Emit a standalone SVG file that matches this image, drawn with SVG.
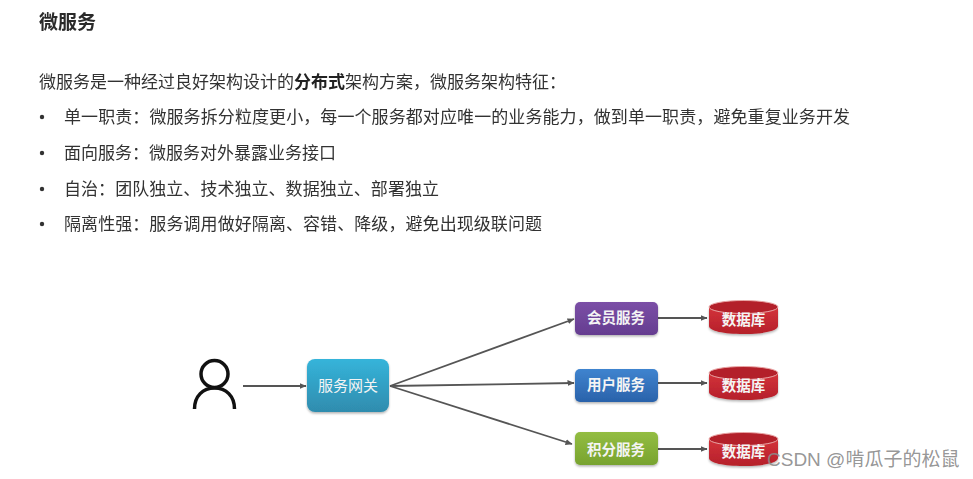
<svg xmlns="http://www.w3.org/2000/svg" width="973" height="479" viewBox="0 0 973 479">
<style>
text{font-family:"Noto Sans CJK SC","Liberation Sans",sans-serif}
.t{font-size:17px;fill:#333}
.d{fill:#333}
.h{font-size:19px;font-weight:700;fill:#2b2b2b}
.b{font-weight:700;fill:#222}
.n{font-size:14.500px;font-weight:700;fill:#f4f4f4;text-anchor:middle}
.l{stroke:#555;stroke-width:1.800;fill:none;marker-end:url(#a)}
.wm{font-family:"Liberation Sans","Noto Sans CJK SC",sans-serif;font-size:19px;fill:#8a8a8a;fill-opacity:.9}
.dbtop{fill:#b3202a;stroke:#e9a5a5;stroke-width:1}
</style>
<defs>
<marker id="a" markerWidth="8" markerHeight="8" refX="6.500" refY="3" orient="auto" markerUnits="userSpaceOnUse"><path d="M0 0L7 3L0 6Z" fill="#555"/></marker>
<linearGradient id="gt" x1="0" y1="0" x2="0" y2="1"><stop offset="0" stop-color="#35b4da"/><stop offset="1" stop-color="#2f8cae"/></linearGradient>
<linearGradient id="gp" x1="0" y1="0" x2="0" y2="1"><stop offset="0" stop-color="#7b4fa6"/><stop offset="1" stop-color="#653d90"/></linearGradient>
<linearGradient id="gb" x1="0" y1="0" x2="0" y2="1"><stop offset="0" stop-color="#3f84cf"/><stop offset="1" stop-color="#2a62aa"/></linearGradient>
<linearGradient id="gg" x1="0" y1="0" x2="0" y2="1"><stop offset="0" stop-color="#93bd42"/><stop offset="1" stop-color="#78a32f"/></linearGradient>
<linearGradient id="gr" x1="0" y1="0" x2="0" y2="1"><stop offset="0" stop-color="#d2323a"/><stop offset="1" stop-color="#b5202a"/></linearGradient>
<filter id="s" x="-10%" y="-10%" width="120%" height="130%"><feDropShadow dx="0" dy="1.500" stdDeviation="1.200" flood-color="#000" flood-opacity=".3"/></filter>
<filter id="soft"><feGaussianBlur stdDeviation="0.350"/></filter>
<g id="cyl"><path d="M709 308V326C709 331 724 334 743.500 334S778 331 778 326V308Z" fill="url(#gr)" filter="url(#s)"/><ellipse class="dbtop" cx="743.500" cy="307" rx="34.500" ry="6.500"/></g>
</defs>
<rect width="973" height="479" fill="#fff"/>
<g id="text" filter="url(#soft)">
<text class="h" x="39" y="29">微服务</text>
<text class="t" x="39" y="88">微服务是一种经过良好架构设计的<tspan class="b">分布式</tspan>架构方案，微服务架构特征：</text>
<circle class="d" cx="42" cy="117" r="2.200"/>
<text class="t" x="64" y="123" textLength="786">单一职责：微服务拆分粒度更小，每一个服务都对应唯一的业务能力，做到单一职责，避免重复业务开发</text>
<circle class="d" cx="42" cy="153" r="2.200"/>
<text class="t" x="64" y="159">面向服务：微服务对外暴露业务接口</text>
<circle class="d" cx="42" cy="189" r="2.200"/>
<text class="t" x="64" y="195" textLength="375">自治：团队独立、技术独立、数据独立、部署独立</text>
<circle class="d" cx="42" cy="224" r="2.200"/>
<text class="t" x="64" y="230" textLength="478">隔离性强：服务调用做好隔离、容错、降级，避免出现级联问题</text>
</g>
<g id="connectors">
<path class="l" d="M243 386H306"/>
<path class="l" d="M390 386L574 319"/>
<path class="l" d="M390 386L574 383"/>
<path class="l" d="M390 386L572 444"/>
<path class="l" d="M658 318H707"/>
<path class="l" d="M658 383H707"/>
<path class="l" d="M655 449H707"/>
</g>
<g id="user" fill="none" stroke="#111" stroke-width="3.500">
<circle cx="214.500" cy="374" r="13.500"/>
<path d="M194.500 409C194.500 396 203 388 214.500 388S234.500 396 234.500 409"/>
</g>
<g id="gateway"><rect x="307" y="359" width="82" height="53" rx="8" fill="url(#gt)" filter="url(#s)"/><text class="n" style="font-weight:400;font-size:15px" x="348" y="391">服务网关</text></g>
<g id="member"><rect x="575" y="302" width="83" height="33" rx="5" fill="url(#gp)" filter="url(#s)"/><text class="n" x="616" y="323">会员服务</text></g>
<g id="userservice"><rect x="575" y="369" width="83" height="33" rx="5" fill="url(#gb)" filter="url(#s)"/><text class="n" x="616" y="390">用户服务</text></g>
<g id="points"><rect x="575" y="432" width="83" height="33" rx="5" fill="url(#gg)" filter="url(#s)"/><text class="n" x="616" y="455">积分服务</text></g>
<g id="db1"><use href="#cyl"/><text class="n" x="743.500" y="325">数据库</text></g>
<g id="db2"><use href="#cyl" y="66"/><text class="n" x="743.500" y="391">数据库</text></g>
<g id="db3"><use href="#cyl" y="132"/><text class="n" x="743.500" y="457">数据库</text></g>
<text class="wm" x="767" y="466">CSDN @啃瓜子的松鼠</text>
</svg>
